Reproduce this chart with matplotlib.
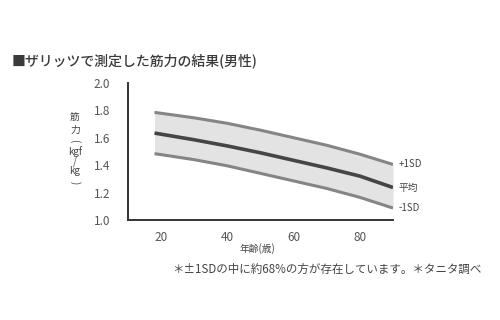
import matplotlib
matplotlib.use("Agg")
import matplotlib.pyplot as plt

plt.rcParams['font.family'] = ['Noto Sans CJK JP', 'DejaVu Sans']

ages = [18, 30, 40, 50, 60, 70, 80, 90]
upper = [1.785, 1.745, 1.705, 1.655, 1.600, 1.545, 1.480, 1.405]
mean = [1.634, 1.585, 1.540, 1.490, 1.435, 1.380, 1.320, 1.237]
lower = [1.484, 1.440, 1.395, 1.340, 1.285, 1.230, 1.165, 1.087]
xticks = [20, 40, 60, 80]
yticks = [1.0, 1.2, 1.4, 1.6, 1.8, 2.0]
series_labels = ['+1SD', '平均', '-1SD']

title = '■ザリッツで測定した筋力の結果(男性)'
xlabel = '年齢(歳)'
ylabel_parts = ['筋', '力', '(', 'kgf', '/', 'kg', ')']
note = '＊±1SDの中に約68%の方が存在しています。＊タニタ調べ'

fig = plt.figure(figsize=(5, 3.2), dpi=100)
ax = fig.add_axes([0.256, 0.3125, 0.53, 0.4285])

ax.fill_between(ages, lower, upper, color='#e3e3e3', lw=0)
ax.plot(ages, upper, color='#858585', lw=2.2, solid_capstyle='butt')
ax.plot(ages, lower, color='#858585', lw=2.2, solid_capstyle='butt')
ax.plot(ages, mean, color='#454545', lw=2.6, solid_capstyle='butt')

ax.set_xlim(10, 90)
ax.set_ylim(1.0, 2.0)
ax.set_xticks(xticks)
ax.set_yticks(yticks)
ax.set_yticklabels([f'{v:.1f}' for v in yticks])
ax.tick_params(axis='both', length=0, labelsize=8.5, colors='#555555')
ax.tick_params(axis='y', pad=13)
ax.tick_params(axis='x', pad=8)
for s in ['top', 'right']:
    ax.spines[s].set_visible(False)
for s in ['left', 'bottom']:
    ax.spines[s].set_color('#333333')
    ax.spines[s].set_linewidth(1.4)

for lab, ys in zip(series_labels, [upper, mean, lower]):
    ax.annotate(lab, xy=(ages[-1], ys[-1]), xytext=(4, 0), textcoords='offset points',
                va='center', ha='left', fontsize=7, color='#444444')

fig.text(0.514, 0.222, xlabel, ha='center', va='center', fontsize=7, color='#444444')

# vertical stacked y label
ypix = [118, 130, 141, 152, 162, 171, 183]
for part, py in zip(ylabel_parts, ypix):
    rot = -90 if part in '()' else 0
    fig.text(0.15, 1 - py / 320, part, ha='center', va='center', fontsize=7,
             color='#444444', rotation=rot)

fig.text(0.024, 0.81, title, ha='left', va='center', fontsize=10, color='#3a3a3a', fontweight='medium')
fig.text(0.344, 0.157, note, ha='left', va='center', fontsize=8.3, color='#444444')

fig.savefig('out.png', dpi=100)
